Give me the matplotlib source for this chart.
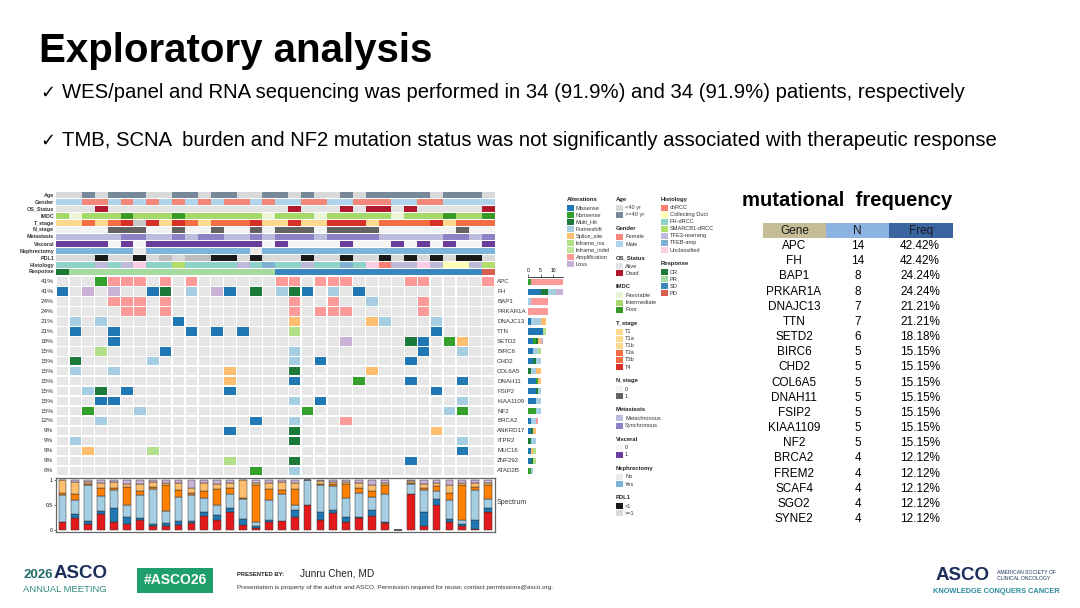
import numpy as np
import matplotlib
matplotlib.use("Agg")
import matplotlib.pyplot as plt
from matplotlib.patches import Rectangle

W, H = 1080, 608
plt.rcParams['font.family'] = ['Liberation Sans', 'DejaVu Sans']

# ---------------- data ----------------
n_samples = 34

# clinical annotation tracks (one value per sample, left to right)
age = "<40 <40 >=40 <40 >=40 >=40 >=40 <40 <40 >=40 >=40 <40 >=40 >=40 <40 <40 >=40 >=40 <40 >=40 <40 <40 >=40 <40 >=40 >=40 >=40 >=40 >=40 <40 >=40 >=40 >=40 <40".split()
gender = "M M F F M F M F M F M F M F F M F M M F F M M F F F M M F F M M M M".split()
os_status = "A A A D A A A A A A A A A A A A A A D A A A D A D D A D A A A A A D".split()
imdc = "I F I I I P I I I P I I I I I I F I I I F I I I I I F I I I P I I P".split()
t_stage = "T1 T1a T3a T1b T3a T4 NA T4 T1 T4 T3a T1 T3a T3b T3a T4 T1 T1 T4 T1 T1b T4 T4 T4 T1 T3a T3a T3b T3a T4 T1a T3a T3b T3a".split()
n_stage = "0 0 0 0 1 1 1 0 0 1 0 0 1 0 0 1 0 1 1 1 0 1 1 1 1 0 0 0 0 0 0 1 0 0".split()
metastasis = "M M M M M S S M M S M S S M M S M S S S M S S S S M M M M M S S M S".split()
visceral = "1 1 1 1 0 1 0 1 1 1 1 1 1 1 1 1 0 1 0 0 0 0 1 0 0 0 1 0 1 0 1 0 0 1".split()
nephrectomy = "Y Y Y Y Y Y N Y Y Y Y Y Y Y Y N Y Y Y Y Y Y Y Y Y Y Y Y Y Y Y Y Y Y".split()
pdl1 = ">=1 >=1 >=1 <1 >=1 >=1 <1 >=1 NA >=1 NA NA <1 <1 >=1 <1 >=1 >=1 >=1 <1 >=1 >=1 <1 >=1 >=1 <1 >=1 <1 >=1 <1 >=1 <1 <1 >=1".split()
histology = "FH FH FH TFE3 FH TFE3 UN FH FH SM FH FH FH FH TFE3 FH TFEB FH FH TFE3 FH FH TFEB FH UN CH TFE3 TFE3 UN TFE3 CD CD TFE3 SM".split()
response = ["CR"] + ["PR"] * 16 + ["SD"] * 16 + ["PD"]

# level -> (legend label, colour)
age_lv = {"<40": ("<40 yr", "#D9D9D9"), ">=40": (">=40 yr", "#778899")}
gender_lv = {"F": ("Female", "#F4877A"), "M": ("Male", "#B0D4EC")}
os_lv = {"A": ("Alive", "#E3E3E3"), "D": ("Dead", "#B2182B")}
imdc_lv = {"F": ("Favorable", "#EAF5D8"), "I": ("Intermediate", "#A6D96A"), "P": ("Poor", "#3A9A28")}
t_lv = {"T1": ("T1", "#FDD98F"), "T1a": ("T1a", "#FDD98F"), "T1b": ("T1b", "#FDD98F"),
        "T3a": ("T3a", "#F46D43"), "T3b": ("T3b", "#F46D43"), "T4": ("T4", "#D73027"),
        "NA": (None, "#C8C8C8")}
n_lv = {"0": ("0", "#F2F2F2"), "1": ("1", "#636363")}
met_lv = {"M": ("Metachronous", "#BCBDDC"), "S": ("Synchronous", "#8E80C5")}
visc_lv = {"0": ("0", "#F5F5F5"), "1": ("1", "#6A3D9A")}
neph_lv = {"N": ("No", "#EBEBEB"), "Y": ("Yes", "#7EB4DC")}
pdl1_lv = {"<1": ("<1", "#1A1A1A"), ">=1": (">=1", "#D9D9D9"), "NA": (None, "#BDBDBD")}
hist_lv = {"CH": ("chRCC", "#FB8072"), "CD": ("Collecting Duct", "#FFFFB3"),
           "FH": ("FH-dRCC", "#8DD3C7"), "SM": ("SMARCB1-dRCC", "#B3DE69"),
           "TFE3": ("TFE3-rearrang", "#BEBADA"), "TFEB": ("TFEB-amp", "#80B1D3"),
           "UN": ("Unclassified", "#FCCDE5")}
resp_lv = {"CR": ("CR", "#1B7837"), "PR": ("PR", "#A6DBA0"), "SD": ("SD", "#3A87C0"), "PD": ("PD", "#D6604D")}

track_names = ["Age", "Gender", "OS_Status", "IMDC", "T_stage", "N_stage", "Metastasis",
               "Visceral", "Nephrectomy", "PDL1", "Histology", "Response"]
track_values = [age, gender, os_status, imdc, t_stage, n_stage, metastasis,
                visceral, nephrectomy, pdl1, histology, response]
track_levels = [age_lv, gender_lv, os_lv, imdc_lv, t_lv, n_lv, met_lv,
                visc_lv, neph_lv, pdl1_lv, hist_lv, resp_lv]

# alteration codes
alt_types = [("M", "Missense", "#1F78B4"), ("N", "Nonsense", "#33A02C"),
             ("H", "Multi_Hit", "#1B7A3A"), ("F", "Frameshift", "#A6CEE3"),
             ("S", "Splice_site", "#FDBF6F"), ("I", "Inframe_ins", "#B2DF8A"),
             ("D", "Inframe_indel", "#C2E699"), ("A", "Amplification", "#FB9A99"),
             ("L", "Loss", "#CAB2D6")]

genes = ["APC", "FH", "BAP1", "PRKAR1A", "DNAJC13", "TTN", "SETD2", "BIRC6", "CHD2",
         "COL6A5", "DNAH11", "FSIP2", "KIAA1109", "NF2", "BRCA2", "ANKRD17", "ITPR2",
         "MUC16", "ZNF292", "ATAD2B"]
gene_pct = ["41%", "41%", "24%", "24%", "21%", "21%", "18%", "15%", "15%", "15%",
            "15%", "15%", "15%", "15%", "12%", "9%", "9%", "9%", "9%", "6%"]
onco = [
    "...NAAA.A.A......AA.AAA....AA....A",
    "M.L.L..MH.F.LM.H.FHM.F.M..........",
    "....AAA.A.........A..A..F...A.....",
    ".....AA.A.........A.AAA.....A.....",
    ".F.F.....M........S.....SF...F....",
    ".M..M.....M.M.M...I..........M....",
    "....M.................L....HM.NS..",
    "...I....M.........F.........M..F..",
    ".H.....F..........F.M......M......",
    ".F..F........S....H.....S.........",
    ".............S....M....N...M...M..",
    "..FH.M.......M...............M....",
    "...MM.............F.M..........F..",
    "..N...F............N..........FN..",
    "...F...........M..F...A...........",
    ".............M....H..........S....",
    ".F................H............F..",
    "..S....I.......................M..",
    ".............I....H........M......",
    "...............N..F...............",
]

# mutation spectrum fractions per sample (bottom to top)
spec_colors = ["#E31A1C", "#1F78B4", "#A6CEE3", "#FF7F00", "#FDBF6F", "#CAB2D6"]
spec_c1 = [.17, .25, .12, .33, .17, .13, .20, .08, .08, .10, .14, .28, .20, .37, .10, .05, .16,
           .18, .26, .51, .21, .35, .17, .25, .29, .14, 0, .72, .08, .50, .17, .08, .03, .36]
spec_c2 = [0, .08, .07, .05, .28, .14, .04, .05, .07, .09, .04, .08, .10, .07, .12, .03, .05,
           0, .14, 0, .16, .06, .10, .02, .11, .02, 0, .01, .28, .13, .05, .05, .17, .09]
spec_c3 = [.53, .27, .71, .30, .35, .23, .46, .69, .24, .48, .52, .29, .20, .29, .41, .09, .39,
           .55, .10, .49, .53, .47, .37, .48, .27, .56, 0, .20, .44, .15, .38, .07, .60, .18]
spec_c4 = [.05, .13, .03, .16, .05, .37, .08, .04, .51, .13, .05, .13, .32, .11, .01, .73, .22,
           .07, .33, 0, .03, .04, .28, .10, .11, .18, 0, .02, .05, .10, .15, .70, .06, .27]
spec_c5 = [.25, .24, .04, .10, .11, .06, .14, .10, .05, .14, .10, .17, .11, .11, .36, .05, .12,
           .16, .11, 0, .05, .04, .05, .09, .12, .05, 0, .03, .08, .07, .15, .05, .08, .05]
spec_c6 = [0, .03, .03, .06, .04, .07, .08, .04, .05, .06, .15, .05, .07, .05, 0, .05, .06,
           .04, .06, 0, .02, .04, .03, .06, .10, .05, 0, .02, .07, .05, .10, .05, .06, .05]

# frequency table
tbl_gene = ["APC", "FH", "BAP1", "PRKAR1A", "DNAJC13", "TTN", "SETD2", "BIRC6", "CHD2",
            "COL6A5", "DNAH11", "FSIP2", "KIAA1109", "NF2", "BRCA2", "FREM2", "SCAF4",
            "SGO2", "SYNE2"]
tbl_n = [14, 14, 8, 8, 7, 7, 6, 5, 5, 5, 5, 5, 5, 5, 4, 4, 4, 4, 4]
tbl_freq = ["42.42%", "42.42%", "24.24%", "24.24%", "21.21%", "21.21%", "18.18%",
            "15.15%", "15.15%", "15.15%", "15.15%", "15.15%", "15.15%", "15.15%",
            "12.12%", "12.12%", "12.12%", "12.12%", "12.12%"]

# ---------------- figure ----------------
fig = plt.figure(figsize=(W / 100, H / 100), dpi=100)
fig.patch.set_facecolor("white")


def px_axes(x0, y0, x1, y1):
    return fig.add_axes([x0 / W, 1 - y1 / H, (x1 - x0) / W, (y1 - y0) / H])


bg = px_axes(0, 0, W, H)
bg.set_xlim(0, W)
bg.set_ylim(H, 0)
bg.axis("off")

# --- slide header ---
bg.text(39, 51, "Exploratory analysis", fontsize=29, fontweight="bold", va="center")
bg.text(40, 93, "\u2713", fontsize=13, va="center", family=["DejaVu Sans"])
bg.text(62, 93, "WES/panel and RNA sequencing was performed in 34 (91.9%) and 34 (91.9%) "
        "patients, respectively", fontsize=14.6, va="center")
bg.text(40, 141, "\u2713", fontsize=13, va="center", family=["DejaVu Sans"])
bg.text(62, 141, "TMB, SCNA  burden and NF2 mutation status was not significantly associated "
        "with therapeutic response", fontsize=14.6, va="center")

X0, X1 = 56, 494.6
cols = np.arange(n_samples) + 0.5

# --- annotation tracks ---
ax_t = px_axes(X0, 191.5, X1, 275.5)
ax_t.set_xlim(0, n_samples)
ax_t.set_ylim(len(track_names), 0)
ax_t.axis("off")
for i, (name, vals, lv) in enumerate(zip(track_names, track_values, track_levels)):
    ax_t.bar(cols, 0.78, bottom=i + 0.11, width=1.0, linewidth=0,
             color=[lv[v][1] for v in vals])
    ax_t.text(-0.15, i + 0.5, name, ha="right", va="center", fontsize=3.9,
              fontweight="bold", color="#333333")

# --- oncoprint matrix ---
alt_color = {c: col for c, _, col in alt_types}
ax_m = px_axes(X0, 276.7, X1, 475.7)
ax_m.set_xlim(0, n_samples)
ax_m.set_ylim(len(genes), 0)
ax_m.axis("off")
for r, row in enumerate(onco):
    ax_m.bar(cols, 0.84, bottom=r + 0.08, width=0.9, linewidth=0,
             color=[alt_color.get(ch, "#E6E6E6") for ch in row])
    ax_m.text(-0.2, r + 0.5, gene_pct[r], ha="right", va="center", fontsize=4.6, color="#333333")
    ax_m.text(34.2, r + 0.5, genes[r], ha="left", va="center", fontsize=4.4, color="#333333")

# --- per-gene stacked counts ---
ax_r = px_axes(528, 276.7, 575, 475.7)
ax_r.set_xlim(0, 18.8)
ax_r.set_ylim(len(genes), 0)
left = np.zeros(len(genes))
for code, label, color in alt_types:
    counts = np.array([row.count(code) for row in onco])
    ax_r.barh(np.arange(len(genes)) + 0.5, counts, left=left, height=0.62,
              color=color, linewidth=0)
    left += counts
for s in ["right", "bottom", "left"]:
    ax_r.spines[s].set_visible(False)
ax_r.spines["top"].set_bounds(0, 14)
ax_r.spines["top"].set_linewidth(0.5)
ax_r.xaxis.tick_top()
ax_r.set_xticks([0, 5, 10])
ax_r.set_yticks([])
ax_r.tick_params(axis="x", labelsize=3.6, length=2, width=0.4, pad=0.5)

# --- spectrum ---
ax_s = px_axes(X0, 478, X1, 532)
bottom = np.zeros(n_samples)
for vals, color in zip([spec_c1, spec_c2, spec_c3, spec_c4, spec_c5, spec_c6], spec_colors):
    vals = np.array(vals)
    ax_s.bar(cols, vals, bottom=bottom, width=0.6, color=color,
             edgecolor="#333333", linewidth=0.35)
    bottom += vals
ax_s.set_xlim(0, n_samples)
ax_s.set_ylim(-0.04, 1.04)
ax_s.set_xticks([])
ax_s.set_yticks([0, 0.5, 1])
ax_s.set_yticklabels(["0", "0.5", "1"])
ax_s.tick_params(axis="y", labelsize=3.6, length=1.5, width=0.4, pad=1)
for s in ax_s.spines.values():
    s.set_color("#666666")
    s.set_linewidth(0.9)
bg.text(497, 503, "Spectrum", fontsize=5, va="center", color="#333333")


# --- legends ---
def draw_legend(x, y, title, items):
    bg.text(x, y, title, fontsize=4.2, fontweight="bold", va="center", color="#222222")
    yy = y + 8.7
    for label, color in items:
        bg.add_patch(Rectangle((x, yy - 3), 7, 6, facecolor=color, linewidth=0))
        bg.text(x + 9, yy, label, fontsize=4.1, va="center", color="#333333")
        yy += 7.05
    return yy - 7.05 + 13.5


draw_legend(567, 199.3, "Alterations", [(lab, col) for _, lab, col in alt_types])
y = 199
for name, lv in zip(track_names[:10], track_levels[:10]):
    y = draw_legend(616, y, name, [v for v in lv.values() if v[0] is not None])
y = 199
for name, lv in zip(track_names[10:], track_levels[10:]):
    y = draw_legend(661, y, name, [v for v in lv.values() if v[0] is not None])

# --- frequency table ---
bg.text(742, 200, "mutational  frequency", fontsize=14.6, fontweight="bold", va="center")
hdr = [("Gene", 763, 826, "#C4BD97"), ("N", 826, 889, "#8DB3E2"), ("Freq", 889, 953, "#3A64A0")]
for label, xa, xb, color in hdr:
    bg.add_patch(Rectangle((xa, 223), xb - xa, 15, facecolor=color, linewidth=0))
    bg.text((xa + xb) / 2, 231, label, fontsize=8.5, ha="center", va="center", color="#1A1A1A")
for i, (g, n, f) in enumerate(zip(tbl_gene, tbl_n, tbl_freq)):
    yy = 246 + 15.17 * i
    bg.text(794, yy, g, fontsize=8.5, ha="center", va="center")
    bg.text(858, yy, str(n), fontsize=8.5, ha="center", va="center")
    bg.text(920, yy, f, fontsize=8.5, ha="center", va="center")

# --- footer ---
bg.text(23, 575.5, "2026", fontsize=9.5, fontweight="bold", va="center", color="#1F6B66")
bg.text(54, 574, "ASCO", fontsize=13.5, fontweight="bold", va="center", color="#1C2F5A")
bg.text(23, 589.5, "ANNUAL MEETING", fontsize=6.8, va="center", color="#2E8B7A")
bg.add_patch(Rectangle((137, 568), 76, 25, facecolor="#1E9E6A", linewidth=0))
bg.text(175, 580.5, "#ASCO26", fontsize=10, fontweight="bold", ha="center", va="center", color="white")
bg.text(237, 575, "PRESENTED BY:", fontsize=4.2, fontweight="bold", va="center", color="#222222")
bg.text(300, 574, "Junru Chen, MD", fontsize=7.3, va="center", color="#222222")
bg.text(237, 587, "Presentation is property of the author and ASCO. Permission required for reuse; "
        "contact permissions@asco.org.", fontsize=4.6, va="center", color="#333333")
bg.text(936, 575, "ASCO", fontsize=13.5, fontweight="bold", va="center", color="#1C2F5A")
bg.text(997, 572, "AMERICAN SOCIETY OF", fontsize=3.7, va="center", color="#1C2F5A")
bg.text(997, 578.5, "CLINICAL ONCOLOGY", fontsize=3.7, va="center", color="#1C2F5A")
bg.text(933, 591.5, "KNOWLEDGE CONQUERS CANCER", fontsize=5.3, fontweight="bold", va="center", color="#2B8C9C")

fig.savefig("out.png", dpi=100)
